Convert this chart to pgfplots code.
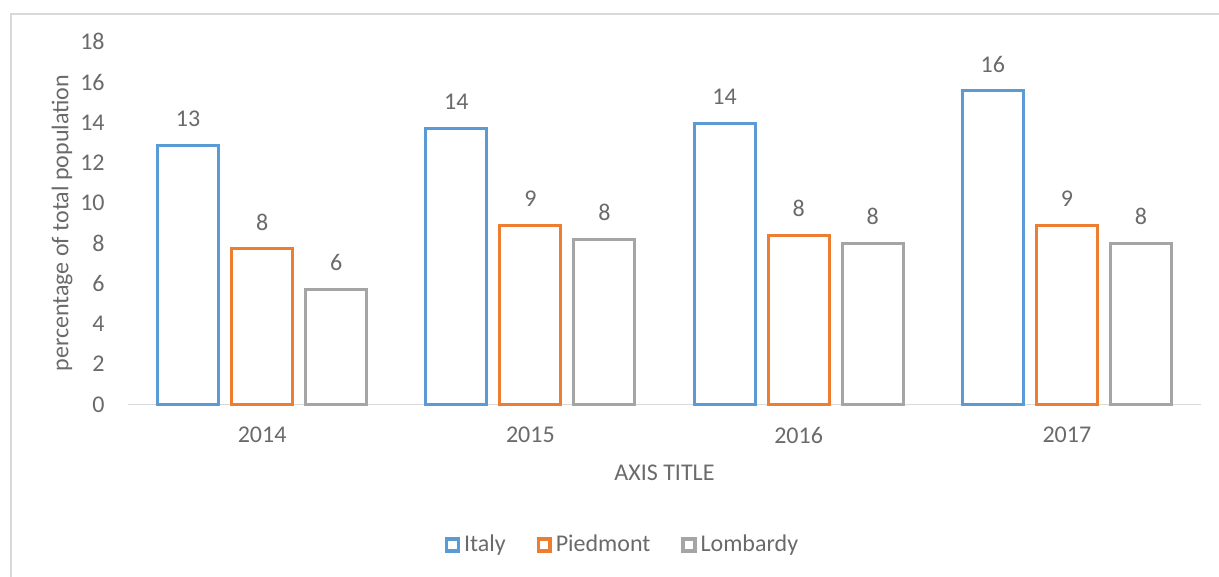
\documentclass[border=0pt]{standalone}
\usepackage{pgfplots}
\pgfplotsset{compat=1.18}
\usepackage{fontspec}
\setmainfont{Carlito}
\definecolor{cblue}{HTML}{5B9BD5}
\definecolor{corange}{HTML}{ED7D31}
\definecolor{cgray}{HTML}{A5A5A5}
\definecolor{ctext}{HTML}{6A6A6A}
\definecolor{cline}{HTML}{D9D9D9}
\begin{document}
\fontsize{12}{14.4}\selectfont
\begin{tikzpicture}
\path[use as bounding box] (0,0) rectangle (609.5pt,288.5pt);
\draw[cline, line width=1pt] (5.5pt,-2pt) -- (5.5pt,281.5pt) -- (612pt,281.5pt);
\begin{axis}[
 at={(64pt,86.25pt)}, anchor=south west,
 scale only axis, width=536.5pt, height=181.4pt,
 ymin=0, ymax=18, xmin=-0.5, xmax=3.5,
 ytick={0,2,...,18}, xtick={0,1,2,3}, xticklabels={2014,2015,2016,2017},
 ybar=6.5pt, bar width=30.5pt,
 axis x line*=bottom, axis y line*=left,
 x axis line style={draw=cline, line width=0.75pt, -},
 y axis line style={draw=none},
 major tick length=0pt,
 clip=false,
 tick label style={text=ctext, font=\fontsize{12}{14.4}\selectfont},
 xticklabel style={inner sep=0pt, anchor=north, yshift=-11pt},
 yticklabel style={inner sep=0pt, anchor=east, xshift=-11.5pt},
 /pgf/number format/assume math mode=true,
 nodes near coords={\pgfmathprintnumber[fixed,precision=0]{\pgfplotspointmeta}},
 nodes near coords style={text=ctext, font=\fontsize{12}{14.4}\selectfont, inner sep=0pt, anchor=south, yshift=8.5pt},
 xlabel={AXIS TITLE},
 xlabel style={at={(axis description cs:0.5,-0.1888)}, anchor=center, text=ctext, font=\fontsize{12}{14.4}\selectfont},
 ylabel={percentage of total population},
 ylabel style={at={(axis description cs:-0.0615,0.5)}, anchor=center, text=ctext, font=\fontsize{12}{14.4}\selectfont},
 legend style={at={(axis description cs:0.4618,-0.3873)}, anchor=center, draw=none, fill=none,
   legend columns=3, /tikz/every even column/.append style={column sep=13.5pt},
   font=\fontsize{12}{14.4}\selectfont, text=ctext},
 legend image code/.code={\draw[#1, line width=1.75pt, fill=white] (0pt,-2.9pt) rectangle (5.8pt,2.9pt);},
]
\addplot[draw=cblue, fill=white, line width=1.5pt] coordinates {(0,12.85) (1,13.7) (2,13.95) (3,15.56)};
\addplot[draw=corange, fill=white, line width=1.5pt] coordinates {(0,7.72) (1,8.9) (2,8.4) (3,8.9)};
\addplot[draw=cgray, fill=white, line width=1.5pt] coordinates {(0,5.73) (1,8.21) (2,8.0) (3,8.0)};
\legend{Italy, Piedmont, Lombardy}
\end{axis}
\end{tikzpicture}
\end{document}
